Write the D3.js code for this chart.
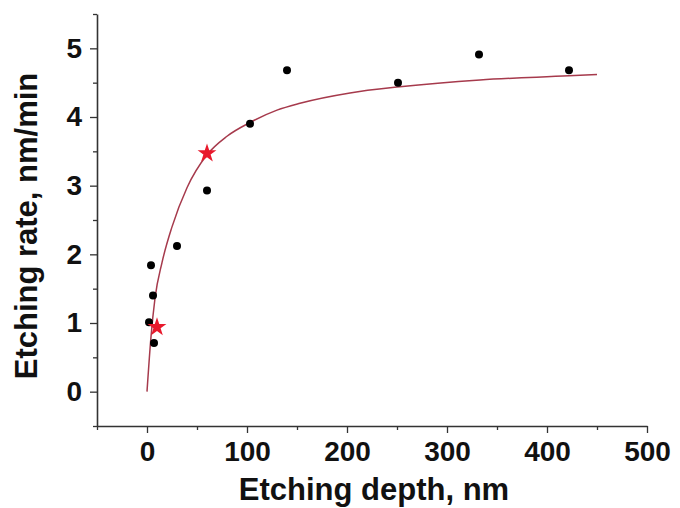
<!DOCTYPE html>
<html>
<head>
<meta charset="utf-8">
<script src="https://cdn.jsdelivr.net/npm/d3@7"></script>
<style>
  html, body { margin: 0; padding: 0; background: #fff; }
  svg { display: block; }
  text { font-family: "Liberation Sans", Arial, sans-serif; font-weight: bold; fill: #111; }
</style>
</head>
<body>
<svg id="chart" width="680" height="508"></svg>
<script>
// Measured data points (black dots)
const depthPoints = [2, 4, 6, 7, 30, 60, 103, 140, 251, 332, 422];
const ratePoints  = [1.01, 1.84, 1.40, 0.71, 2.12, 2.93, 3.90, 4.68, 4.50, 4.91, 4.68];
// Highlighted points (red stars)
const depthStars = [10, 60];
const rateStars  = [0.94, 3.47];
// Fitted curve
const curveDepth = [0, 4, 8, 15, 25, 40, 60, 80, 103, 130, 153, 203, 253, 333, 422, 450];
const curveRate  = [0, 0.80, 1.36, 1.88, 2.40, 2.97, 3.45, 3.72, 3.92, 4.10, 4.20, 4.35, 4.44, 4.54, 4.60, 4.62];
// Ticks
const xTicks = [0, 100, 200, 300, 400, 500];
const xMinor = [-50, 50, 150, 250, 350, 450];
const yTicks = [0, 1, 2, 3, 4, 5];
const yMinor = [-0.5, 0.5, 1.5, 2.5, 3.5, 4.5, 5.5];

const svg = d3.select("#chart");
const x = d3.scaleLinear().domain([-50, 500]).range([97, 647]);
const y = d3.scaleLinear().domain([-0.5, 5.5]).range([426, 14]);

const axisColor = "#333";

// X axis
const gx = svg.append("g").attr("transform", `translate(0,${y(-0.5)})`)
  .call(d3.axisBottom(x).tickValues(xTicks).tickSize(7).tickSizeOuter(0).tickPadding(8).tickFormat(d3.format("d")));
svg.append("g").attr("transform", `translate(0,${y(-0.5)})`)
  .call(d3.axisBottom(x).tickValues(xMinor).tickSize(4).tickSizeOuter(0).tickFormat(""))
  .select(".domain").remove();

// Y axis
const gy = svg.append("g").attr("transform", `translate(${x(-50)},0)`)
  .call(d3.axisLeft(y).tickValues(yTicks).tickSize(7).tickSizeOuter(0).tickPadding(8).tickFormat(d3.format("d")));
svg.append("g").attr("transform", `translate(${x(-50)},0)`)
  .call(d3.axisLeft(y).tickValues(yMinor).tickSize(4).tickSizeOuter(0).tickFormat(""))
  .select(".domain").remove();

svg.selectAll(".domain").attr("stroke", axisColor).attr("stroke-width", 1.6);
svg.selectAll(".tick line").attr("stroke", axisColor).attr("stroke-width", 1.3);
[gx, gy].forEach(g => g.selectAll(".tick text")
  .style("font-size", "28px").attr("fill", "#111")
  .attr("font-family", "Liberation Sans, Arial, sans-serif").attr("font-weight", "bold"));

// Axis titles
svg.append("text")
  .attr("x", (x(-50) + x(500)) / 2 + 2).attr("y", 500)
  .attr("text-anchor", "middle").style("font-size", "31px")
  .text("Etching depth, nm");
svg.append("text")
  .attr("transform", `translate(37,${(y(-0.5) + y(5.5)) / 2 + 6}) rotate(-90)`)
  .attr("text-anchor", "middle").style("font-size", "31px")
  .text("Etching rate, nm/min");

// Fitted curve
const curveData = curveDepth.map((d, i) => [d, curveRate[i]]);
svg.append("path")
  .datum(curveData)
  .attr("fill", "none")
  .attr("stroke", "#a63a4c")
  .attr("stroke-width", 1.5)
  .attr("d", d3.line().x(d => x(d[0])).y(d => y(d[1])).curve(d3.curveMonotoneX));

// Dots
svg.append("g").selectAll("circle")
  .data(depthPoints.map((d, i) => [d, ratePoints[i]]))
  .join("circle")
  .attr("cx", d => x(d[0])).attr("cy", d => y(d[1]))
  .attr("r", 4).attr("fill", "#000");

// Stars
svg.append("g").selectAll("path")
  .data(depthStars.map((d, i) => [d, rateStars[i]]))
  .join("path")
  .attr("transform", d => `translate(${x(d[0])},${y(d[1])})`)
  .attr("d", d3.symbol(d3.symbolStar).size(110))
  .attr("fill", "#e8192c");
</script>
</body>
</html>
